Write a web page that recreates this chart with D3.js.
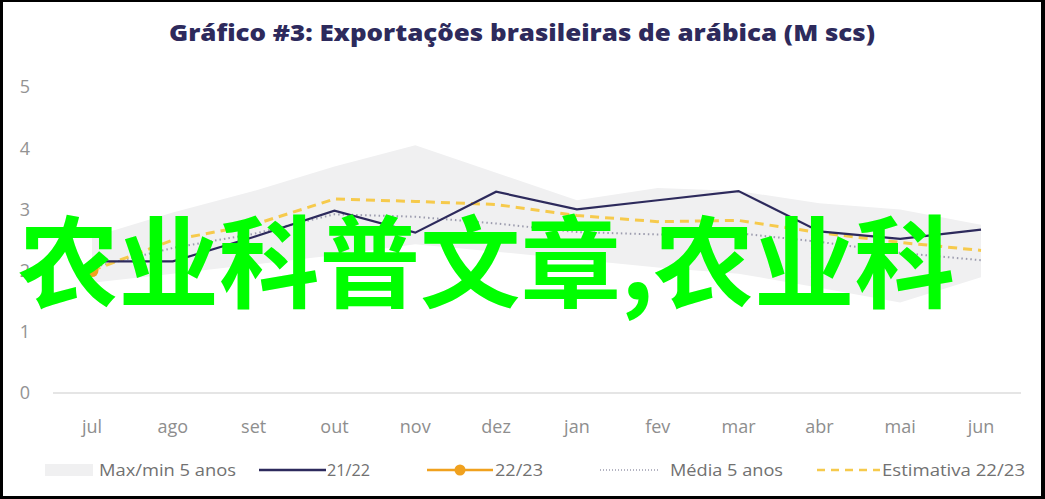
<!DOCTYPE html>
<html><head><meta charset="utf-8">
<script src="https://cdn.jsdelivr.net/npm/d3@7"></script>
<style>html,body{margin:0;padding:0;background:#fff;}svg{display:block;}</style>
</head><body>
<svg id="chart" width="1045" height="499"></svg>
<script>
const months = ["jul","ago","set","out","nov","dez","jan","fev","mar","abr","mai","jun"];
const yTicks = [0,1,2,3,4,5];
const bandMax = [2.55,2.95,3.3,3.7,4.05,3.6,3.15,3.35,3.3,3.1,3.0,2.75];
const bandMin = [1.8,1.95,2.1,2.25,2.43,2.31,2.18,2.05,1.95,1.72,1.48,1.89];
const s2122 = [2.15,2.15,2.55,2.98,2.62,3.29,3.0,3.15,3.3,2.64,2.52,2.67];
const s2223 = [2.0];
const media5 = [2.05,2.37,2.6,2.92,2.88,2.77,2.63,2.59,2.61,2.47,2.29,2.17];
const estimativa = [2.0,2.5,2.75,3.17,3.13,3.08,2.9,2.8,2.82,2.62,2.46,2.33];
const titleText = "Gráfico #3: Exportações brasileiras de arábica (M scs)";
const watermark = "农业科普文章,农业科";
const legendLabels = ["Max/min 5 anos","21/22","22/23","Média 5 anos","Estimativa 22/23"];

const svg = d3.select("#chart");
const x = d3.scalePoint().domain(months).range([92, 981]);
const y = d3.scaleLinear().domain([0,5]).range([393, 87]);

const navy = "#2d2a5c", orange = "#f0a11e", yellow = "#f6ca4c", grey = "#9c9cae", band = "#f0f0f1";

// title
svg.append("text").attr("x", 522).attr("y", 41).attr("text-anchor","middle")
  .attr("font-family","'Open Sans', sans-serif").attr("font-weight",800).attr("font-size",23)
  .attr("fill", navy).attr("textLength",706).attr("lengthAdjust","spacingAndGlyphs").text(titleText);

// y tick labels
svg.append("g").selectAll("text").data(yTicks).join("text")
  .attr("x", 25).attr("y", d => y(d)).attr("dy","0.35em").attr("text-anchor","middle")
  .attr("font-family","'Open Sans', sans-serif").attr("font-size",18).attr("fill","#939393")
  .text(d => d);

// baseline
svg.append("line").attr("x1",53).attr("x2",1021).attr("y1",y(0)).attr("y2",y(0))
  .attr("stroke","#dcdcdc").attr("stroke-width",1.5);

// x labels
svg.append("g").selectAll("text").data(months).join("text")
  .attr("x", d => x(d)).attr("y", 427).attr("dy","0.35em").attr("text-anchor","middle")
  .attr("font-family","'Open Sans', sans-serif").attr("font-size",18).attr("fill","#8e8e8e")
  .text(d => d);

// band
const area = d3.area().x((d,i) => x(months[i])).y0((d,i) => y(bandMin[i])).y1(d => y(d));
svg.append("path").datum(bandMax).attr("d", area).attr("fill", band);

const line = d3.line().x((d,i) => x(months[i])).y(d => y(d));
svg.append("path").datum(media5).attr("d", line).attr("fill","none")
  .attr("stroke", grey).attr("stroke-width",2).attr("stroke-dasharray","1.5,3");
svg.append("path").datum(estimativa).attr("d", line).attr("fill","none")
  .attr("stroke", yellow).attr("stroke-width",3).attr("stroke-dasharray","9,6");
svg.append("path").datum(s2122).attr("d", line).attr("fill","none")
  .attr("stroke", navy).attr("stroke-width",2.2);
svg.append("path").datum(s2223).attr("d", line).attr("fill","none")
  .attr("stroke", orange).attr("stroke-width",2.5);
svg.append("g").selectAll("circle").data(s2223).join("circle")
  .attr("cx",(d,i)=>x(months[i])).attr("cy", d=>y(d)).attr("r",6.5).attr("fill",orange);

// legend
const lg = svg.append("g").attr("font-family","'Open Sans', sans-serif").attr("font-size",16).attr("fill","#717171");
const ly = 470;
lg.append("rect").attr("x",45).attr("y",ly-6).attr("width",48).attr("height",12).attr("fill",band);
lg.append("line").attr("x1",259).attr("x2",326).attr("y1",ly).attr("y2",ly).attr("stroke",navy).attr("stroke-width",2.5);
lg.append("line").attr("x1",427).attr("x2",493).attr("y1",ly).attr("y2",ly).attr("stroke",orange).attr("stroke-width",2.5);
lg.append("circle").attr("cx",460).attr("cy",ly).attr("r",5.5).attr("fill",orange);
lg.append("line").attr("x1",600).attr("x2",658).attr("y1",ly).attr("y2",ly).attr("stroke",grey).attr("stroke-width",1.5).attr("stroke-dasharray","1,2");
lg.append("line").attr("x1",817).attr("x2",880).attr("y1",ly).attr("y2",ly).attr("stroke",yellow).attr("stroke-width",2.5).attr("stroke-dasharray","8,6");
const lpos = [[99,137],[327,43],[495,48],[670,113],[882,143]];
lg.selectAll("text").data(legendLabels).join("text")
  .attr("x",(d,i)=>lpos[i][0]).attr("y",ly).attr("dy","0.35em")
  .attr("textLength",(d,i)=>lpos[i][1]).attr("lengthAdjust","spacingAndGlyphs").text(d=>d);

// watermark
svg.append("text").attr("x",18).attr("y",300)
  .attr("font-family","'Noto Sans CJK SC', sans-serif").attr("font-weight",700).attr("font-size",100)
  .attr("fill","#00ff00").attr("textLength",937).attr("lengthAdjust","spacingAndGlyphs").text(watermark);

// frame
svg.append("rect").attr("x",0).attr("y",0).attr("width",1045).attr("height",2).attr("fill","#000");
svg.append("rect").attr("x",0).attr("y",0).attr("width",3).attr("height",499).attr("fill","#000");
svg.append("rect").attr("x",1041).attr("y",0).attr("width",4).attr("height",499).attr("fill","#000");
svg.append("rect").attr("x",0).attr("y",496).attr("width",1045).attr("height",3).attr("fill","#000");
</script>
</body></html>
